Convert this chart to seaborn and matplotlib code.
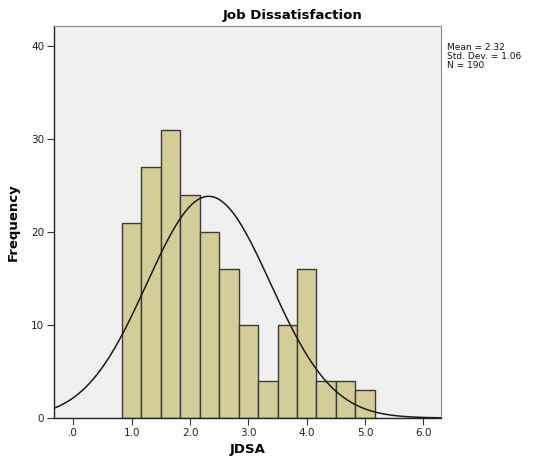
import numpy as np
import pandas as pd
import matplotlib
matplotlib.use("Agg")
import matplotlib.pyplot as plt
import seaborn as sns

# Data (bin centres in thirds, counts)
bin_centers = [1.0, 4/3, 5/3, 2.0, 7/3, 8/3, 3.0, 10/3, 11/3, 4.0, 13/3, 14/3, 5.0]
counts = [21, 27, 31, 24, 20, 16, 10, 4, 10, 16, 4, 4, 3]
mean_val = 2.32
sd_val = 1.06
n_val = 190
x_ticks = [0, 1, 2, 3, 4, 5, 6]
x_tick_labels = [".0", "1.0", "2.0", "3.0", "4.0", "5.0", "6.0"]
y_ticks = [0, 10, 20, 30, 40]

sns.set_style("white")
plt.rcParams['font.family'] = ['DejaVu Sans']

df = pd.DataFrame({"JDSA": bin_centers, "count": counts})

fig = plt.figure(figsize=(5.36, 4.66), dpi=100)
ax = fig.add_axes([54/536, 1-418/466, (441-54)/536, (418-26)/466])
ax.set_facecolor("#f0f0f0")

bw = 1/3
sns.histplot(data=df, x="JDSA", weights="count", binwidth=bw,
             binrange=(bin_centers[0]-bw/2, bin_centers[-1]+bw/2),
             color="#d3ce98", alpha=1, edgecolor="#3a3a3a", linewidth=1.0, ax=ax)

xs = np.linspace(-0.5, 6.5, 400)
ys = n_val * bw / (sd_val*np.sqrt(2*np.pi)) * np.exp(-0.5*((xs-mean_val)/sd_val)**2)
ax.plot(xs, ys, color="#1a1a1a", linewidth=1.1)

ax.set_xlim(-0.33, 6.3)
ax.set_ylim(0, 42.15)
ax.set_xticks(x_ticks)
ax.set_xticklabels(x_tick_labels, fontsize=7.5, color="#222222")
ax.set_yticks(y_ticks)
ax.set_yticklabels([str(v) for v in y_ticks], fontsize=7.5, color="#222222")
ax.tick_params(axis="both", direction="out", length=5, width=0.8, color="#333333", pad=2, left=True, bottom=True)

for s in ["left", "bottom"]:
    ax.spines[s].set_color("#222222")
    ax.spines[s].set_linewidth(1.0)
for s in ["top", "right"]:
    ax.spines[s].set_color("#888888")
    ax.spines[s].set_linewidth(0.8)

ax.set_xlabel("JDSA", fontsize=9.5, fontweight="bold", labelpad=4, color="black")
ax.set_ylabel("Frequency", fontsize=9.5, fontweight="bold", labelpad=8, color="black")
fig.text(293/536, 1-15/466, "Job Dissatisfaction", fontsize=9.5, fontweight="bold",
         color="black", ha="center", va="center")

fig.text(447/536, 1-43/466, f"Mean = {mean_val:.2f}\nStd. Dev. = {sd_val:.2f}\nN = {n_val}",
         fontsize=6.5, va="top", ha="left", linespacing=1.0, color="#111111")

fig.savefig("out.png", dpi=100)
